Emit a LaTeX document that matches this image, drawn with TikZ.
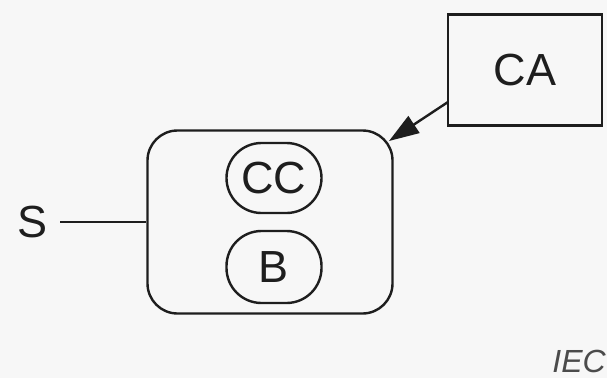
\documentclass[tikz,border=0pt]{standalone}
\usepackage{fontspec}
\setmainfont{Liberation Sans}
\usetikzlibrary{arrows.meta,shapes.geometric}
\definecolor{bg}{RGB}{247,247,247}
\definecolor{ink}{RGB}{30,30,30}
\begin{document}
\begin{tikzpicture}[x=1pt,y=-1pt,
  lbl/.style={font=\fontsize{45}{45}\selectfont, text=ink, inner sep=0pt},
  line/.style={draw=ink, line width=2.4pt},
  pill/.style={line, rounded corners=35pt, minimum width=95pt, minimum height=70pt, inner sep=0pt, font=\fontsize{45}{45}\selectfont, text=ink}]
\fill[bg] (0,0) rectangle (607,378);
\useasboundingbox (0,0) rectangle (607,378);
\node[line, rounded corners=30pt, minimum width=245pt, minimum height=183pt] (sys) at (270,222) {};
\node[pill] (cc) at (274,178) {CC};
\node[pill, minimum height=72pt] (b) at (274,267) {B};
\node[line, minimum width=154pt, minimum height=111pt, font=\fontsize{45}{45}\selectfont, text=ink] (ca) at (525,70) {CA};
\node[lbl] (s) at (33,222) {S};
\coordinate (sEnd) at (60,222);
\draw[line] (sEnd) -- (sys.west);
\coordinate (caOut) at (448,102);
\coordinate (tip) at (389,141);
\draw[line, -{Triangle[length=30pt,width=20pt]}] (caOut) -- (tip);
\node[anchor=east, font=\fontsize{32}{32}\selectfont\itshape, text=ink!80, inner sep=0pt] (iec) at (606,361) {IEC};
\end{tikzpicture}
\end{document}
